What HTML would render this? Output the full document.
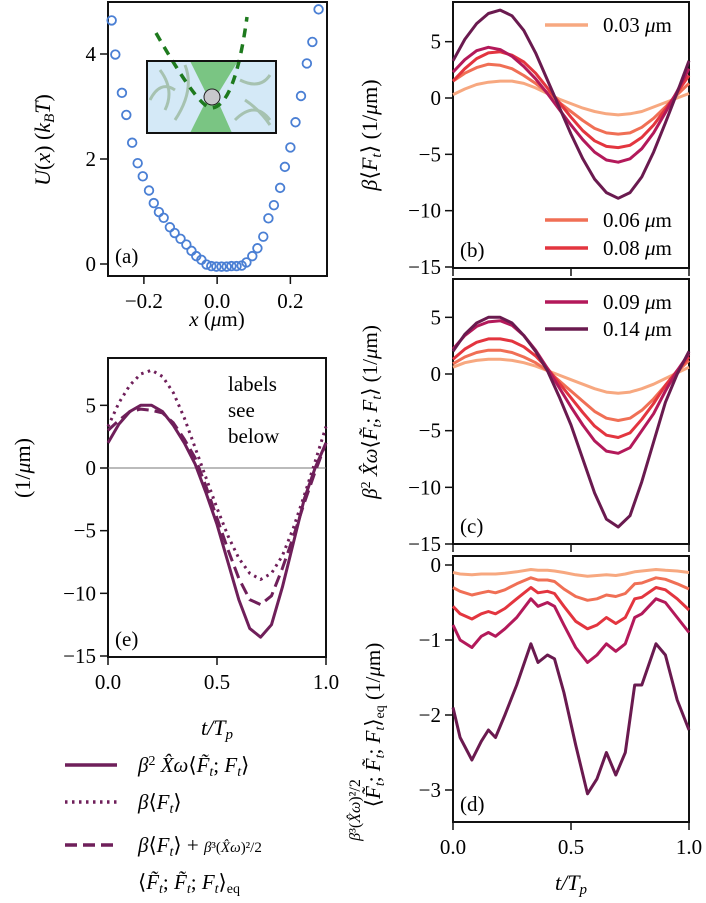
<!DOCTYPE html>
<html><head><meta charset="utf-8">
<style>
html,body{margin:0;padding:0;background:#fff;}
svg{display:block;font-family:"Liberation Serif",serif;}
</style></head>
<body>
<svg id="fig" width="706" height="903" viewBox="0 0 706 903" xmlns="http://www.w3.org/2000/svg">
 <g>
  <rect x="147" y="61" width="129" height="72" fill="#d4e9f7"/>
  <path d="M160 70 q15 20 5 40 M175 120 q20 -30 10 -55 M240 80 q20 10 30 -5 M235 120 q20 -20 35 0 M150 100 q10 -20 25 -10 M245 100 q15 10 25 25" stroke="#a6c2b0" stroke-width="3" fill="none"/>
  <polygon points="190,61 238,61 216,97 232,133 190,133 208,97" fill="#5cb85c" opacity="0.75"/>
  <circle cx="212" cy="97" r="8" fill="#c8c8cc" stroke="#222" stroke-width="1"/>
  <path d="M156 33 Q200 110 212 108 Q235 105 247 17" stroke="#1e7a1e" stroke-width="3.5" fill="none" stroke-dasharray="9,7"/>
  <rect x="147" y="61" width="129" height="72" fill="none" stroke="#111" stroke-width="2"/>
 </g>
 <g id="layer"></g>
 <text x="217" y="326" font-size="21" text-anchor="middle"><tspan font-style="italic">x</tspan> (<tspan font-style="italic">μ</tspan>m)</text>
 <text transform="translate(50,140) rotate(-90)" font-size="22" text-anchor="middle"><tspan font-style="italic">U</tspan>(<tspan font-style="italic">x</tspan>) (<tspan font-style="italic">k</tspan><tspan font-size="15" font-style="italic" dy="4">B</tspan><tspan font-style="italic" dy="-4">T</tspan>)</text>
 <text transform="translate(377,135) rotate(-90)" font-size="22" text-anchor="middle"><tspan font-style="italic">β</tspan>⟨<tspan font-style="italic">F</tspan><tspan font-size="15" font-style="italic" dy="4">t</tspan><tspan dy="-4">⟩ (1/</tspan><tspan font-style="italic">μ</tspan>m)</text>
 <text transform="translate(377,412) rotate(-90)" font-size="21" text-anchor="middle"><tspan font-style="italic">β</tspan><tspan font-size="14" dy="-7">2</tspan><tspan font-style="italic" dy="7"> X̂ω</tspan>⟨<tspan font-style="italic">F̃</tspan><tspan font-size="14" font-style="italic" dy="4">t</tspan><tspan dy="-4">; </tspan><tspan font-style="italic">F</tspan><tspan font-size="14" font-style="italic" dy="4">t</tspan><tspan dy="-4">⟩ (1/</tspan><tspan font-style="italic">μ</tspan>m)</text>
 <text transform="translate(380,725) rotate(-90)" font-size="21" text-anchor="middle">⟨<tspan font-style="italic">F̃</tspan><tspan font-size="14" font-style="italic" dy="4">t</tspan><tspan dy="-4">; </tspan><tspan font-style="italic">F̃</tspan><tspan font-size="14" font-style="italic" dy="4">t</tspan><tspan dy="-4">; </tspan><tspan font-style="italic">F</tspan><tspan font-size="14" font-style="italic" dy="4">t</tspan><tspan dy="-4">⟩</tspan><tspan font-size="14" dy="4">eq</tspan><tspan dy="-4"> (1/</tspan><tspan font-style="italic">μ</tspan>m)</text>
 <text transform="translate(360,810) rotate(-90)" font-size="16" text-anchor="middle"><tspan font-style="italic">β</tspan>³(<tspan font-style="italic">X̂ω</tspan>)²/2</text>
 <text transform="translate(30,468) rotate(-90)" font-size="22" text-anchor="middle">(1/<tspan font-style="italic">μ</tspan>m)</text>
 <text x="217" y="735" font-size="22" text-anchor="middle" font-style="italic">t/T<tspan font-size="15" dy="4">p</tspan></text>
 <text x="571" y="890" font-size="22" text-anchor="middle" font-style="italic">t/T<tspan font-size="15" dy="4">p</tspan></text>
 <text x="115" y="263" font-size="21">(a)</text>
 <text x="460" y="257" font-size="21">(b)</text>
 <text x="460" y="533" font-size="21">(c)</text>
 <text x="460" y="811" font-size="21">(d)</text>
 <text x="115" y="646" font-size="21">(e)</text>
 <text x="228" y="391" font-size="21"><tspan x="228">labels</tspan><tspan x="228" dy="26">see</tspan><tspan x="228" dy="26">below</tspan></text>
 <g>
  <line x1="545" y1="25" x2="588" y2="25" stroke="#f7a880" stroke-width="3.5"/>
  <text x="603" y="32" font-size="21">0.03 <tspan font-style="italic">μ</tspan>m</text>
  <line x1="545" y1="220" x2="588" y2="220" stroke="#f06f55" stroke-width="3.5"/>
  <text x="603" y="227" font-size="21">0.06 <tspan font-style="italic">μ</tspan>m</text>
  <line x1="545" y1="248" x2="588" y2="248" stroke="#e3353f" stroke-width="3.5"/>
  <text x="603" y="255" font-size="21">0.08 <tspan font-style="italic">μ</tspan>m</text>
 </g>
 <g>
  <line x1="545" y1="302" x2="588" y2="302" stroke="#b3195a" stroke-width="3.5"/>
  <text x="603" y="309" font-size="21">0.09 <tspan font-style="italic">μ</tspan>m</text>
  <line x1="545" y1="329" x2="588" y2="329" stroke="#6a1a4f" stroke-width="3.5"/>
  <text x="603" y="336" font-size="21">0.14 <tspan font-style="italic">μ</tspan>m</text>
 </g>
 <g>
  <line x1="65" y1="765" x2="117" y2="765" stroke="#6f1f5a" stroke-width="3.5"/>
  <text x="138" y="772" font-size="21"><tspan font-style="italic">β</tspan><tspan font-size="14" dy="-7">2</tspan><tspan font-style="italic" dy="7"> X̂ω</tspan>⟨<tspan font-style="italic">F̃</tspan><tspan font-size="14" font-style="italic" dy="4">t</tspan><tspan dy="-4">; </tspan><tspan font-style="italic">F</tspan><tspan font-size="14" font-style="italic" dy="4">t</tspan><tspan dy="-4">⟩</tspan></text>
  <line x1="65" y1="802" x2="117" y2="802" stroke="#6f1f5a" stroke-width="3.5" stroke-dasharray="2.5,4.5"/>
  <text x="138" y="809" font-size="21"><tspan font-style="italic">β</tspan>⟨<tspan font-style="italic">F</tspan><tspan font-size="14" font-style="italic" dy="4">t</tspan><tspan dy="-4">⟩</tspan></text>
  <line x1="65" y1="845" x2="117" y2="845" stroke="#6f1f5a" stroke-width="3.5" stroke-dasharray="12,6"/>
  <text x="138" y="852" font-size="21"><tspan font-style="italic">β</tspan>⟨<tspan font-style="italic">F</tspan><tspan font-size="14" font-style="italic" dy="4">t</tspan><tspan dy="-4">⟩ + </tspan><tspan font-size="15"><tspan font-style="italic">β</tspan>³(<tspan font-style="italic">X̂ω</tspan>)²/2</tspan></text>
  <text x="138" y="889" font-size="21">⟨<tspan font-style="italic">F̃</tspan><tspan font-size="14" font-style="italic" dy="4">t</tspan><tspan dy="-4">; </tspan><tspan font-style="italic">F̃</tspan><tspan font-size="14" font-style="italic" dy="4">t</tspan><tspan dy="-4">; </tspan><tspan font-style="italic">F</tspan><tspan font-size="14" font-style="italic" dy="4">t</tspan><tspan dy="-4">⟩</tspan><tspan font-size="14" dy="4">eq</tspan></text>
 </g>
</svg>
<script>
const potX = [-0.288,-0.278,-0.260,-0.248,-0.232,-0.217,-0.203,-0.186,-0.173,-0.159,-0.146,-0.129,-0.116,-0.100,-0.084,-0.070,-0.057,-0.043,-0.029,-0.016,-0.002,0.012,0.026,0.039,0.053,0.067,0.080,0.096,0.110,0.126,0.140,0.155,0.172,0.185,0.200,0.214,0.229,0.245,0.260,0.277];
const potU = [4.64,3.99,3.26,2.84,2.31,1.92,1.67,1.40,1.16,0.99,0.88,0.70,0.59,0.48,0.37,0.25,0.15,0.08,-0.01,-0.04,-0.05,-0.05,-0.05,-0.04,-0.04,-0.03,0.03,0.15,0.30,0.52,0.87,1.12,1.45,1.85,2.22,2.70,3.20,3.82,4.23,4.85];
const tGrid = [0,0.05,0.1,0.15,0.2,0.25,0.3,0.35,0.4,0.45,0.5,0.55,0.6,0.65,0.7,0.75,0.8,0.85,0.9,0.95,1.0];
const b03 = [0.3,0.8,1.2,1.4,1.5,1.5,1.3,0.9,0.4,-0.1,-0.5,-0.9,-1.2,-1.4,-1.5,-1.4,-1.2,-0.8,-0.4,0.0,0.4];
const b06 = [1.5,2.2,2.7,3.0,2.9,2.6,2.0,1.3,0.5,-0.4,-1.2,-2.0,-2.7,-3.1,-3.2,-3.1,-2.6,-1.8,-0.8,0.3,1.3];
const b08 = [1.5,2.6,3.5,4.0,4.1,3.8,3.2,2.2,0.9,-0.4,-1.7,-2.9,-3.8,-4.3,-4.4,-4.2,-3.5,-2.4,-1.0,0.5,2.0];
const b09 = [2.3,3.4,4.2,4.5,4.3,3.7,2.8,1.7,0.4,-1.0,-2.4,-3.7,-4.8,-5.5,-5.7,-5.4,-4.5,-3.1,-1.3,0.6,2.6];
const b14 = [3.3,5.2,6.6,7.5,7.8,7.3,6.0,4.0,1.6,-0.8,-3.2,-5.4,-7.2,-8.4,-8.9,-8.4,-7.0,-4.8,-2.2,0.5,3.3];
const c03 = [0.6,1.0,1.2,1.3,1.3,1.2,1.0,0.7,0.3,-0.1,-0.5,-0.9,-1.3,-1.6,-1.7,-1.6,-1.3,-0.9,-0.4,0.1,0.6];
const c06 = [0.9,1.5,1.9,2.1,2.1,1.9,1.5,1.0,0.3,-0.6,-1.5,-2.4,-3.3,-3.9,-4.1,-3.9,-3.2,-2.2,-1.0,0.2,1.2];
const c08 = [1.3,2.2,2.8,3.1,3.1,2.9,2.4,1.6,0.5,-0.8,-2.1,-3.4,-4.6,-5.4,-5.6,-5.2,-4.0,-2.6,-1.0,0.3,1.5];
const c09 = [2.2,3.4,4.2,4.6,4.7,4.3,3.4,2.1,0.5,-1.2,-2.9,-4.5,-5.9,-6.8,-7.0,-6.5,-5.0,-3.5,-1.5,0.3,1.8];
const c14 = [2.0,3.5,4.5,5.0,5.0,4.5,3.4,2.0,0.3,-2.0,-4.5,-7.5,-10.5,-12.8,-13.5,-12.5,-9.5,-6.0,-2.5,0.0,2.0];
const eDashed = [3.0,3.8,4.5,4.7,4.6,4.4,3.6,2.3,0.8,-1.5,-4.0,-6.5,-8.8,-10.5,-10.9,-10.2,-8.0,-5.5,-2.8,-0.3,2.0];
const dT = [0,0.03,0.08,0.12,0.15,0.18,0.22,0.27,0.33,0.36,0.40,0.43,0.47,0.52,0.57,0.61,0.65,0.69,0.73,0.77,0.80,0.86,0.90,0.95,1.0];
const d03 = [-0.1,-0.12,-0.13,-0.12,-0.12,-0.12,-0.11,-0.09,-0.06,-0.07,-0.07,-0.08,-0.1,-0.13,-0.15,-0.14,-0.13,-0.14,-0.12,-0.09,-0.08,-0.06,-0.07,-0.08,-0.1];
const d06 = [-0.3,-0.35,-0.4,-0.37,-0.35,-0.37,-0.33,-0.25,-0.17,-0.2,-0.2,-0.22,-0.32,-0.42,-0.47,-0.45,-0.4,-0.42,-0.38,-0.25,-0.24,-0.17,-0.19,-0.25,-0.32];
const d08 = [-0.55,-0.65,-0.72,-0.65,-0.62,-0.65,-0.58,-0.45,-0.3,-0.37,-0.35,-0.38,-0.55,-0.75,-0.85,-0.8,-0.7,-0.78,-0.7,-0.45,-0.43,-0.3,-0.33,-0.45,-0.6];
const d09 = [-0.8,-1.0,-1.1,-0.95,-0.9,-0.95,-0.85,-0.7,-0.45,-0.55,-0.5,-0.55,-0.8,-1.1,-1.3,-1.2,-1.05,-1.15,-1.05,-0.7,-0.65,-0.45,-0.5,-0.7,-0.9];
const d14 = [-1.9,-2.3,-2.6,-2.35,-2.2,-2.3,-2.0,-1.6,-1.05,-1.3,-1.2,-1.25,-1.7,-2.4,-3.05,-2.85,-2.5,-2.8,-2.5,-1.6,-1.6,-1.05,-1.2,-1.8,-2.2];
const ticksA_x = [-0.2,0.0,0.2];
const ticksA_y = [0,2,4];
const ticksBC_y = [5,0,-5,-10,-15];
const ticksD_y = [0,-1,-2,-3];
const ticksT = [0,0.5,1.0];

const colors = ['#f7a880','#f06f55','#e3353f','#b3195a','#6a1a4f'];
const NS = 'http://www.w3.org/2000/svg';
const layer = document.getElementById('layer');
function mk(tag, attrs){const e=document.createElementNS(NS,tag);for(const k in attrs)e.setAttribute(k,attrs[k]);layer.appendChild(e);return e;}
function lin(d0,d1,r0,r1){return v=>r0+(v-d0)*(r1-r0)/(d1-d0);}
function fmt(v,dec){const s=Math.abs(v).toFixed(dec);return (v<0?'\u2212':'')+s;}

const panels = {
 a:{x0:108,x1:327,y0:2,y1:276,sx:lin(-0.298,0.3,108,327),sy:lin(0,4,264,54)},
 b:{x0:453,x1:689,y0:2,y1:268,sx:lin(0,1,453,689),sy:lin(0,-15,98,267)},
 c:{x0:453,x1:689,y0:279,y1:544,sx:lin(0,1,453,689),sy:lin(0,-15,374,544)},
 d:{x0:453,x1:689,y0:556,y1:822,sx:lin(0,1,453,689),sy:lin(0,-3,565,790)},
 e:{x0:108,x1:326,y0:358,y1:657,sx:lin(0,1,108,326),sy:lin(0,-15,468,656)}
};

function frame(key, xt, xdec, yt, ydec, showXLabels){
 const p=panels[key];
 const r=mk('rect',{x:p.x0,y:p.y0,width:p.x1-p.x0,height:p.y1-p.y0,fill:'none',stroke:'#111','stroke-width':2});
 
 
 xt.forEach(v=>{
  const x=p.sx(v);
  const t=mk('line',{x1:x,y1:p.y1,x2:x,y2:p.y1+8,stroke:'#111','stroke-width':1.5});
  
  
  if(showXLabels){
   const l=mk('text',{x:x,y:p.y1+32,'font-size':21,'text-anchor':'middle'});
   l.textContent=fmt(v,xdec);
   
   
  }
 });
 yt.forEach(v=>{
  const y=p.sy(v);
  const t=mk('line',{x1:p.x0-8,y1:y,x2:p.x0,y2:y,stroke:'#111','stroke-width':1.5});
  
  
  const l=mk('text',{x:p.x0-12,y:y+7,'font-size':21,'text-anchor':'end'});
  l.textContent=fmt(v,ydec);
  
  
 });
}
function series(key, xs, ys, color, name, dash){
 const p=panels[key];
 const pts=xs.map((x,i)=>p.sx(x).toFixed(1)+','+p.sy(ys[i]).toFixed(1)).join(' ');
 const a={points:pts,fill:'none',stroke:color,'stroke-width':3,'stroke-linejoin':'round'};
 if(dash) a['stroke-dasharray']=dash;
 const e=mk('polyline',a);
 
 
}

frame('a',ticksA_x,1,ticksA_y,0,true);
potX.forEach((x,i)=>{
 const c=mk('circle',{cx:panels.a.sx(x),cy:panels.a.sy(potU[i]),r:4.3,fill:'none',stroke:'#4a7fd4','stroke-width':1.8});
 
 
});
frame('b',ticksT,1,ticksBC_y,0,false);
[b03,b06,b08,b09,b14].forEach((s,i)=>series('b',tGrid,s,colors[i],'series-b-'+i));
frame('c',ticksT,1,ticksBC_y,0,false);
[c03,c06,c08,c09,c14].forEach((s,i)=>series('c',tGrid,s,colors[i],'series-c-'+i));
frame('d',ticksT,1,ticksD_y,0,true);
[d03,d06,d08,d09,d14].forEach((s,i)=>series('d',dT,s,colors[i],'series-d-'+i));
frame('e',ticksT,1,ticksBC_y,0,true);
const zl=mk('line',{x1:panels.e.x0,x2:panels.e.x1,y1:panels.e.sy(0),y2:panels.e.sy(0),stroke:'#777','stroke-width':1});


series('e',tGrid,c14,'#6f1f5a','series-e-solid');
series('e',tGrid,b14,'#6f1f5a','series-e-dotted','2.5,4.5');
series('e',tGrid,eDashed,'#6f1f5a','series-e-dashed','12,6');
</script>
</body></html>
